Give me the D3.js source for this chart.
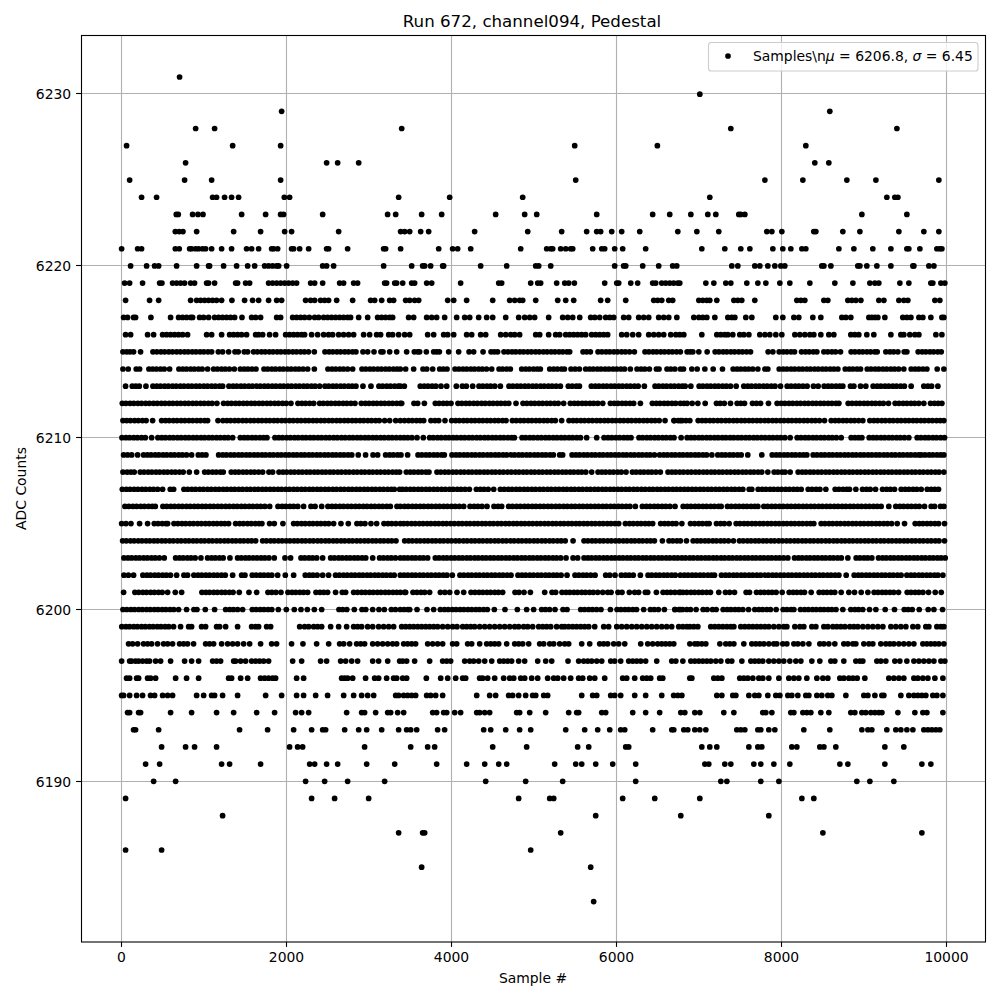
<!DOCTYPE html>
<html><head><meta charset="utf-8">
<style>html,body{margin:0;padding:0;background:#fff}svg{display:block}text{font-family:"DejaVu Sans";fill:#000}</style>
<script src="https://cdn.jsdelivr.net/npm/d3@7/dist/d3.min.js"></script></head><body>
<svg id="c" width="1000" height="1000"></svg>
<script>
const titleText="Run 672, channel094, Pedestal";
const xLabel="Sample #", yLabel="ADC Counts";
const xTicks=[0,2000,4000,6000,8000,10000];
const yTicks=[6190,6200,6210,6220,6230];
const adc6231=[701];
const adc6230=[7013];
const adc6229=[1939,8590];
const adc6228=[896,1126,3396,7389,9404];
const adc6227=[58,1345,1927,5495,6498,8299];
const adc6226=[774,2485,2619,2874,8408,8578];
const adc6225=[95,762,1090,1927,5507,7802,8263,8797,9149,9913];
const adc6224=[240,422,1102,1150,1247,1332,1417,1972,2036,3359,3978,4864,7134,9282,9379,9416];
const adc6223=[661,685,859,924,985,1454,1745,1927,1963,2437,3225,3323,3638,3881,4536,4888,5034,5762,6441,6648,6904,7110,7207,7486,7510,7559,8979,9525];
const adc6222=[649,697,742,908,1357,1684,1976,2060,2631,3383,3432,3493,3626,3723,4281,4925,5337,5640,5762,5810,5944,6065,6284,6746,6977,7243,7826,7887,8008,8396,8421,8748,8955,9428,9731,9913];
const adc6221=[-2,192,240,649,697,823,847,896,932,980,1017,1090,1211,1332,1514,1575,1660,1818,1842,1891,2060,2085,2158,2267,2485,2509,2740,3177,3201,3383,3845,4014,4075,4233,4840,5155,5204,5228,5325,5386,5446,5471,5713,5823,5859,5980,6077,6356,7037,7316,7510,7620,7899,8020,8117,8251,8299,8700,8882,9112,9331,9525,9549,9683,9889,9925,9950];
const adc6220=[107,301,398,447,665,908,1053,1065,1235,1393,1527,1612,1733,1781,1830,1879,1903,2000,2437,2485,2570,3177,3517,3650,3675,3747,3893,3905,4354,4670,5022,5058,5204,5980,6089,6114,6320,6514,6684,6733,7401,7474,7680,7741,7838,7923,7996,8044,8493,8518,8603,8930,8955,9039,9161,9331,9598,9610,9792,9853];
const adc6219=[34,95,252,459,487,616,665,713,762,835,883,1029,1053,1126,1381,1405,1502,1551,1781,1830,1879,1927,1976,2024,2073,2121,2291,2340,2437,2643,2691,2813,2861,3189,3213,3311,3335,3408,3517,3553,3699,3760,4111,4573,4609,4961,5046,5082,5276,5374,5422,5491,5859,6005,6029,6175,6259,6441,6478,6551,6599,6648,6696,6745,6770,7086,7183,7328,7389,7583,7717,7814,7984,8105,8348,8651,8870,9076,9137,9185,9440,9549,9816,9840,9938,9986];
const adc6218=[46,337,447,835,908,956,1005,1053,1102,1150,1211,1336,1490,1587,1660,1781,1879,1939,2230,2291,2340,2412,2461,2509,2607,2801,3019,3068,3153,3250,3298,3444,3493,3553,3602,3954,4027,4184,4500,4706,4767,4827,4864,5022,5289,5386,5483,5810,5895,6114,6454,6502,6551,6636,6684,7001,7049,7098,7134,7219,7426,7474,7522,7680,8190,8239,8287,8518,8566,8809,8857,8906,8967,9185,9246,9428,9488,9537,9865,9925];
const adc6217=[22,70,143,167,353,592,689,738,786,835,859,944,993,1053,1126,1175,1223,1272,1320,1369,1458,1575,1624,1684,1879,1927,2073,2121,2170,2218,2275,2340,2388,2449,2497,2546,2594,2643,2691,2740,2776,2874,2983,3104,3153,3201,3250,3286,3480,3541,3699,3760,3820,3917,4063,4160,4221,4330,4427,4500,4658,4815,4888,4949,5009,5179,5349,5410,5471,5556,5689,5738,5798,5871,5920,5968,6089,6150,6271,6332,6393,6514,6575,6636,6734,6940,7001,7049,7098,7195,7353,7401,7438,7571,7644,7935,8020,8154,8214,8384,8481,8736,8785,8845,9064,9100,9137,9173,9258,9476,9525,9574,9671,9719,9816,9950,9974];
const adc6216=[46,107,313,386,495,544,592,641,689,738,798,1029,1090,1211,1308,1357,1405,1454,1514,1624,1660,1709,1793,1866,1988,2036,2085,2133,2182,2218,2303,2376,2449,2509,2558,2631,2691,2752,2813,2934,3007,3092,3140,3238,3286,3359,3432,3493,3711,3784,3905,3954,4027,4184,4245,4354,4415,4597,4658,4718,4767,4827,5022,5070,5179,5264,5313,5386,5434,5483,5531,5580,5628,5701,5750,5798,5847,5895,6065,6126,6199,6271,6393,6454,6514,6575,6660,6722,6770,6819,7037,7219,7268,7316,7353,7413,7498,7547,7608,7741,7802,7862,7935,8008,8166,8226,8287,8348,8396,8481,8578,8639,8845,8894,8942,9039,9124,9331,9452,9488,9561,9622,9671,9877,9950];
const adc6215=[14,60,100,143,228,378,425,475,520,570,615,665,710,760,805,855,900,950,995,1045,1090,1171,1223,1296,1373,1413,1486,1527,1599,1645,1695,1740,1790,1835,1885,1930,1980,2025,2075,2120,2170,2215,2265,2336,2465,2515,2560,2610,2655,2705,2750,2800,2841,2926,2983,3060,3144,3169,3250,3335,3456,3549,3590,3614,3695,3784,3820,3853,3966,4087,4213,4269,4383,4480,4520,4560,4637,4685,4735,4780,4830,4875,4925,4970,5020,5065,5115,5160,5210,5255,5305,5350,5400,5434,5596,5640,5685,5778,5825,5875,5920,5970,6015,6065,6110,6160,6219,6348,6395,6445,6490,6540,6585,6635,6680,6730,6777,6859,6895,6928,7001,7102,7199,7245,7295,7340,7390,7435,7485,7530,7580,7628,7842,7899,7976,8025,8070,8120,8162,8247,8295,8340,8390,8433,8518,8565,8615,8660,8720,8849,8895,8945,8990,9040,9085,9135,9165,9270,9320,9365,9416,9493,9525,9662,9710,9755,9805,9850,9900,9942];
const adc6214=[14,78,175,216,329,375,420,470,515,580,693,740,785,835,880,930,975,1041,1114,1160,1210,1255,1305,1365,1438,1485,1530,1580,1628,1725,1770,1820,1865,1915,1960,2010,2055,2105,2150,2200,2255,2336,2501,2550,2595,2645,2690,2740,2801,2914,2960,3010,3055,3105,3150,3200,3245,3295,3340,3379,3444,3541,3654,3700,3772,3857,3900,3946,4043,4090,4140,4185,4235,4280,4330,4375,4425,4488,4577,4620,4670,4714,4852,4900,4945,4995,5040,5078,5192,5240,5285,5335,5370,5450,5500,5552,5628,5675,5720,5770,5815,5865,5910,5960,6005,6055,6100,6170,6251,6300,6345,6401,6486,6518,6615,6660,6710,6777,6815,6916,6981,7074,7175,7288,7417,7465,7510,7560,7605,7655,7717,7802,7838,7976,8025,8070,8120,8165,8215,8260,8310,8355,8405,8450,8500,8545,8595,8640,8688,8777,8825,8870,8920,8963,9044,9090,9140,9185,9235,9280,9330,9375,9425,9488,9577,9625,9670,9720,9768,9893,9974];
const adc6213=[46,127,170,212,293,378,425,470,520,565,615,660,710,755,805,850,900,945,995,1040,1090,1135,1185,1223,1300,1350,1395,1445,1490,1540,1585,1635,1680,1730,1775,1825,1870,1920,1965,2015,2060,2110,2155,2205,2250,2300,2345,2400,2465,2510,2560,2605,2655,2700,2750,2795,2841,2926,3023,3120,3165,3215,3260,3310,3355,3379,3428,3622,3670,3715,3765,3810,3873,3942,4059,4132,4180,4257,4334,4380,4430,4475,4525,4593,4698,4745,4795,4840,4890,4935,4985,5030,5080,5125,5175,5220,5270,5321,5418,5465,5515,5552,5697,5745,5790,5840,5885,5935,5980,6030,6075,6125,6170,6220,6265,6340,6470,6515,6565,6610,6660,6705,6755,6800,6835,6904,7005,7050,7100,7145,7195,7240,7290,7335,7385,7454,7547,7595,7640,7690,7735,7785,7830,7880,7925,7992,8073,8120,8170,8215,8265,8315,8392,8449,8522,8570,8615,8665,8710,8748,8841,8882,8963,9027,9116,9165,9210,9260,9305,9355,9400,9450,9495,9577,9731,9780,9825,9901];
const adc6212=[6,50,100,145,195,240,290,335,385,430,480,525,575,620,670,715,765,810,860,905,955,1000,1050,1095,1154,1235,1285,1330,1380,1425,1475,1520,1570,1615,1665,1710,1760,1805,1855,1900,1950,1995,2052,2137,2185,2230,2280,2328,2400,2445,2495,2540,2590,2635,2685,2730,2780,2829,2906,2955,3000,3050,3095,3145,3190,3240,3285,3335,3379,3396,3545,3590,3671,3804,3850,3900,3945,3994,4079,4125,4175,4220,4270,4315,4365,4410,4460,4505,4555,4600,4650,4695,4783,4868,4915,4965,5010,5060,5105,5155,5200,5250,5295,5361,5442,5490,5535,5585,5630,5680,5725,5775,5835,5928,5975,6020,6070,6115,6165,6210,6292,6437,6485,6530,6580,6625,6675,6720,6777,6820,6859,6920,6989,7078,7215,7260,7310,7385,7466,7510,7555,7652,7700,7750,7846,7951,8000,8045,8095,8140,8190,8235,8285,8330,8380,8425,8475,8520,8570,8615,8665,8700,8813,8860,8910,8955,9005,9050,9100,9145,9195,9240,9302,9383,9430,9480,9525,9575,9620,9670,9731,9812,9860,9905,9950];
const adc6211=[14,60,105,155,200,250,295,374,483,530,575,625,670,720,765,815,860,910,955,1005,1041,1167,1227,1275,1320,1370,1415,1465,1510,1560,1605,1655,1700,1750,1795,1845,1890,1940,1985,2035,2080,2130,2175,2225,2270,2320,2365,2415,2460,2510,2555,2605,2650,2700,2745,2795,2840,2890,2935,2985,3030,3080,3124,3189,3250,3323,3379,3430,3480,3525,3575,3620,3663,3751,3800,3845,3921,4002,4050,4095,4145,4190,4240,4285,4335,4380,4430,4475,4525,4570,4620,4662,4739,4785,4835,4880,4930,4975,5025,5070,5120,5165,5215,5260,5337,5426,5475,5520,5570,5615,5665,5710,5760,5805,5855,5900,5950,5995,6045,6090,6140,6185,6235,6280,6330,6375,6425,6470,6520,6591,6700,6777,6701,6750,6800,6845,6892,6993,7040,7085,7135,7180,7230,7275,7325,7370,7420,7465,7515,7560,7610,7655,7705,7750,7800,7845,7895,7940,7990,8035,8085,8130,8180,8225,8275,8320,8370,8415,8465,8526,8607,8655,8700,8750,8795,8845,8890,8940,8991,9076,9125,9170,9220,9265,9315,9360,9410,9455,9505,9550,9600,9645,9695,9740,9790,9835,9885,9930,9974];
const adc6210=[2,50,95,145,190,240,285,362,438,485,530,580,625,675,720,770,815,865,910,960,1005,1055,1100,1150,1195,1245,1290,1345,1438,1485,1530,1580,1625,1675,1720,1761,1858,1905,1950,2000,2045,2095,2140,2190,2235,2285,2330,2380,2425,2475,2520,2570,2615,2665,2710,2760,2805,2855,2900,2950,2995,3045,3090,3140,3185,3235,3280,3330,3379,3425,3470,3520,3582,3658,3735,3780,3830,3875,3925,3970,4020,4065,4115,4160,4210,4255,4305,4350,4400,4445,4495,4540,4590,4635,4685,4730,4763,4856,4900,4950,4995,5045,5090,5140,5185,5235,5280,5330,5375,5425,5470,5520,5565,5640,5762,5851,5900,5945,5995,6040,6090,6135,6178,6275,6320,6370,6415,6465,6510,6560,6605,6655,6700,6786,6859,6905,6950,7000,7045,7095,7140,7190,7235,7285,7330,7380,7425,7475,7520,7570,7615,7665,7710,7760,7805,7855,7900,7950,7995,8045,8109,8194,8240,8290,8335,8385,8430,8480,8525,8575,8620,8670,8728,8849,8895,8940,8979,9068,9115,9160,9210,9255,9305,9350,9400,9445,9495,9549,9650,9695,9745,9790,9840,9885,9935,9982];
const adc6209=[22,70,120,192,264,310,355,405,450,500,545,595,640,690,735,785,847,928,975,1021,1175,1225,1270,1320,1365,1415,1460,1510,1555,1605,1650,1700,1745,1795,1840,1890,1935,1985,2030,2080,2125,2175,2220,2270,2315,2365,2410,2460,2505,2555,2600,2650,2695,2745,2790,2869,2958,3048,3104,3201,3250,3295,3345,3387,3468,3594,3640,3690,3735,3785,3830,3880,3913,4006,4055,4100,4150,4195,4245,4290,4340,4385,4435,4480,4530,4575,4625,4670,4720,4765,4815,4860,4910,4955,5005,5050,5100,5145,5195,5236,5313,5349,5463,5510,5555,5605,5650,5700,5745,5795,5840,5890,5935,5985,6030,6080,6125,6175,6220,6270,6315,6365,6410,6462,6526,6575,6620,6670,6715,6765,6810,6860,6905,6955,7000,7050,7095,7159,7231,7280,7325,7375,7420,7470,7515,7595,7765,7891,7940,7985,8035,8080,8130,8175,8225,8270,8311,8388,8435,8485,8530,8580,8625,8675,8720,8770,8815,8865,8910,8960,9005,9055,9100,9150,9195,9245,9290,9340,9385,9435,9480,9530,9575,9625,9670,9700,9745,9795,9840,9890,9935,9974];
const adc6208=[14,65,110,151,224,270,320,365,415,460,510,555,605,650,700,745,819,908,1005,1050,1100,1145,1195,1231,1328,1375,1420,1470,1515,1565,1610,1660,1709,1785,1830,1907,1955,2000,2050,2095,2145,2190,2240,2285,2335,2380,2430,2475,2525,2570,2620,2665,2715,2760,2810,2855,2905,2950,3000,3045,3095,3140,3190,3235,3285,3330,3371,3452,3500,3545,3595,3640,3690,3727,3824,3870,3920,3965,4015,4060,4110,4155,4205,4250,4300,4345,4395,4440,4490,4535,4585,4630,4680,4725,4775,4820,4870,4915,4965,5010,5060,5105,5155,5200,5250,5295,5345,5390,5440,5485,5535,5580,5630,5701,5778,5825,5870,5920,5965,6015,6060,6118,6195,6240,6290,6335,6385,6430,6480,6534,6627,6675,6720,6770,6815,6865,6910,6960,7005,7055,7100,7150,7195,7245,7290,7340,7385,7435,7480,7530,7575,7625,7670,7720,7765,7838,7915,7960,8010,8048,8109,8206,8255,8300,8350,8395,8445,8490,8540,8585,8635,8680,8730,8775,8825,8870,8920,8965,9015,9060,9110,9155,9205,9250,9300,9345,9395,9440,9490,9535,9585,9630,9680,9725,9775,9820,9870,9915,9974];
const adc6207=[6,55,100,150,195,245,290,340,385,435,495,588,629,754,800,850,895,945,990,1040,1085,1135,1180,1230,1275,1325,1370,1420,1465,1515,1560,1610,1655,1705,1750,1800,1845,1895,1940,1990,2035,2085,2130,2180,2225,2275,2320,2370,2415,2465,2510,2560,2605,2655,2700,2750,2795,2845,2890,2940,2985,3035,3080,3130,3175,3225,3270,3306,3371,3404,3450,3500,3545,3595,3640,3690,3735,3785,3830,3880,3925,3975,4020,4070,4115,4165,4217,4302,4350,4395,4445,4512,4593,4640,4690,4735,4785,4830,4880,4925,4975,5020,5070,5115,5165,5210,5260,5305,5355,5400,5450,5495,5545,5590,5640,5685,5735,5780,5830,5875,5925,5970,6020,6065,6115,6160,6210,6255,6305,6350,6400,6445,6495,6540,6590,6635,6685,6730,6777,6825,6870,6920,6965,7015,7060,7110,7155,7205,7250,7300,7345,7395,7440,7490,7535,7612,7644,7721,7770,7815,7865,7910,7960,8005,8055,8100,8150,8195,8243,8328,8375,8425,8470,8542,8655,8700,8750,8795,8829,8906,8987,9035,9080,9145,9230,9280,9325,9375,9456,9505,9550,9600,9645,9699,9772,9820,9865,9909];
const adc6206=[38,85,135,180,230,275,325,370,406,499,545,595,640,690,735,785,830,880,925,975,1020,1070,1115,1165,1210,1260,1305,1355,1400,1450,1495,1545,1590,1640,1685,1735,1794,1895,1945,1990,2040,2085,2135,2206,2295,2345,2425,2501,2550,2595,2645,2690,2740,2785,2835,2880,2930,2975,3025,3070,3120,3165,3215,3258,3339,3379,3430,3475,3525,3570,3620,3665,3715,3760,3810,3855,3905,3950,4000,4045,4095,4148,4225,4275,4320,4370,4431,4516,4565,4609,4694,4740,4790,4835,4885,4930,4980,5025,5075,5120,5170,5215,5265,5310,5360,5405,5455,5500,5550,5595,5645,5690,5740,5785,5835,5880,5930,5975,6025,6070,6120,6165,6231,6316,6365,6410,6460,6505,6555,6600,6650,6712,6811,6860,6905,6955,7000,7050,7095,7145,7190,7240,7272,7349,7395,7445,7490,7540,7585,7635,7680,7717,7790,7835,7885,7930,7980,8025,8075,8120,8170,8215,8265,8310,8360,8405,8455,8500,8550,8595,8645,8690,8740,8785,8835,8880,8930,8975,9025,9070,9120,9165,9213,9306,9391,9440,9485,9535,9580,9630,9675,9739,9820,9861,9933,9974];
const adc6205=[-2,50,111,216,313,394,440,490,535,556,633,680,730,775,825,870,920,965,1015,1060,1110,1155,1205,1250,1296,1381,1430,1475,1525,1570,1620,1665,1700,1793,1850,1955,2085,2130,2180,2225,2275,2320,2370,2415,2465,2510,2570,2659,2748,2853,2900,2950,3023,3092,3181,3230,3275,3325,3379,3420,3465,3515,3560,3610,3655,3705,3750,3800,3845,3895,3940,3990,4035,4085,4130,4180,4225,4275,4320,4370,4415,4465,4510,4560,4605,4655,4700,4750,4795,4845,4890,4940,4985,5035,5080,5130,5175,5225,5270,5320,5365,5415,5460,5510,5555,5605,5650,5700,5745,5795,5840,5890,5935,5985,6029,6110,6160,6205,6255,6300,6350,6395,6441,6538,6585,6630,6680,6725,6795,6900,6950,7000,7045,7095,7126,7215,7265,7310,7369,7454,7500,7550,7595,7645,7690,7740,7785,7835,7880,7930,7975,8025,8070,8120,8165,8215,8260,8310,8355,8396,8485,8530,8580,8625,8675,8720,8770,8815,8865,8910,8960,9005,9055,9100,9150,9195,9245,9290,9340,9408,9497,9626,9675,9720,9770,9815,9865,9910,9982];
const adc6204=[10,55,105,150,200,245,295,340,390,435,485,530,580,625,675,720,770,815,865,910,960,1005,1055,1100,1150,1195,1245,1290,1340,1385,1435,1480,1530,1575,1624,1709,1755,1805,1850,1900,1945,1995,2040,2090,2135,2185,2230,2280,2325,2375,2420,2470,2515,2565,2610,2660,2705,2755,2800,2850,2895,2945,2990,3040,3085,3135,3180,3230,3275,3327,3432,3480,3525,3575,3620,3670,3715,3765,3810,3860,3905,3955,4000,4050,4095,4145,4190,4240,4285,4335,4380,4430,4475,4525,4570,4620,4665,4715,4760,4810,4855,4905,4950,5000,5045,5095,5140,5190,5235,5285,5330,5380,5475,5608,5655,5705,5750,5800,5845,5895,5940,5990,6035,6085,6130,6180,6225,6275,6320,6370,6415,6462,6559,6639,6685,6735,6777,6851,6932,6980,7025,7075,7120,7170,7215,7265,7310,7360,7421,7494,7540,7590,7635,7685,7730,7780,7825,7875,7920,7970,8015,8065,8110,8160,8205,8255,8300,8350,8395,8445,8490,8540,8585,8635,8680,8730,8775,8825,8870,8920,8965,9015,9060,9110,9155,9205,9250,9300,9345,9395,9440,9490,9535,9585,9630,9680,9725,9775,9820,9870,9915,9982];
const adc6203=[26,75,120,170,215,265,310,360,405,455,515,653,700,745,795,840,890,960,1041,1090,1135,1185,1230,1312,1405,1450,1500,1545,1595,1640,1690,1735,1785,1850,1980,2048,2174,2220,2270,2315,2365,2437,2534,2580,2630,2675,2725,2770,2820,2865,2915,2960,3044,3128,3175,3225,3270,3320,3379,3425,3470,3520,3565,3615,3660,3711,3804,3850,3900,3945,3995,4040,4090,4135,4185,4230,4280,4325,4375,4420,4470,4515,4565,4610,4660,4705,4755,4800,4850,4895,4945,4990,5040,5085,5135,5180,5230,5275,5325,5390,5475,5531,5608,5655,5700,5750,5795,5845,5890,5940,5985,6035,6080,6130,6175,6225,6270,6320,6365,6415,6460,6510,6555,6605,6650,6700,6745,6795,6840,6890,6935,6985,7030,7080,7125,7175,7220,7270,7315,7365,7410,7460,7505,7555,7600,7650,7695,7745,7790,7840,7885,7935,7980,8030,8081,8162,8210,8255,8305,8350,8400,8445,8495,8540,8590,8635,8685,8730,8809,8910,8955,9005,9050,9100,9181,9230,9275,9325,9370,9420,9465,9515,9560,9610,9655,9705,9750,9800,9845,9895,9940,9990];
const adc6202=[26,80,143,256,305,350,400,445,495,540,590,665,754,798,875,925,970,1020,1065,1115,1160,1210,1255,1345,1454,1494,1583,1630,1680,1725,1775,1820,1891,1984,2085,2226,2275,2320,2370,2437,2509,2594,2640,2690,2735,2785,2830,2880,2925,2975,3020,3070,3115,3165,3210,3260,3305,3379,3425,3470,3520,3565,3615,3660,3710,3755,3805,3850,3900,3945,4010,4103,4150,4200,4245,4295,4340,4390,4435,4485,4530,4580,4625,4675,4722,4807,4855,4900,4950,4995,5045,5090,5140,5185,5235,5280,5330,5402,5499,5545,5595,5640,5690,5742,5871,5920,5984,6061,6110,6155,6205,6292,6385,6430,6480,6525,6575,6620,6670,6715,6777,6825,6870,6920,6965,7015,7060,7110,7155,7191,7276,7325,7370,7420,7465,7515,7560,7610,7655,7705,7750,7800,7845,7895,7940,7990,8035,8085,8130,8180,8225,8275,8320,8370,8415,8465,8510,8560,8605,8655,8700,8789,8886,8935,8980,9030,9075,9125,9170,9220,9265,9315,9360,9410,9455,9525,9575,9620,9670,9715,9765,9810,9860,9901,9962];
const adc6201=[22,159,205,255,300,350,395,445,490,556,649,726,972,1020,1065,1115,1160,1210,1255,1305,1350,1425,1543,1636,1773,1820,1870,1931,2016,2065,2110,2160,2205,2255,2356,2405,2450,2497,2594,2675,2716,2813,2860,2910,2955,3005,3050,3100,3145,3195,3240,3290,3335,3379,3430,3444,3533,3580,3630,3675,3735,3865,3920,3978,4067,4148,4237,4285,4335,4380,4430,4475,4525,4570,4621,4771,4819,4880,4957,5131,5220,5264,5341,5390,5435,5485,5530,5580,5625,5675,5720,5774,5835,5895,5936,6020,6069,6158,6223,6271,6352,6381,6486,6567,6615,6660,6710,6777,6762,6810,6855,6905,6950,7000,7045,7095,7142,7243,7324,7375,7434,7575,7616,7701,7750,7795,7845,7890,7939,8012,8097,8145,8190,8240,8283,8364,8461,8510,8555,8605,8650,8728,8821,8890,8971,9052,9128,9175,9225,9270,9320,9365,9424,9529,9575,9625,9670,9720,9788,9869,9942];
const adc6200=[14,60,110,155,205,250,300,345,395,440,490,535,585,630,689,786,875,912,1013,1126,1260,1310,1355,1405,1466,1583,1630,1680,1725,1775,1820,1899,1996,2093,2174,2251,2336,2425,2635,2680,2730,2821,2914,2960,3044,3120,3185,3270,3320,3379,3425,3470,3493,3582,3703,3784,3865,3915,3960,4010,4055,4105,4150,4200,4245,4295,4340,4390,4435,4520,4649,4799,4912,4997,5094,5140,5190,5256,5353,5402,5568,5615,5665,5710,5760,5814,5928,6009,6055,6105,6150,6200,6245,6332,6413,6460,6510,6583,6712,6777,6710,6760,6805,6855,6900,6968,7053,7102,7167,7211,7296,7345,7390,7440,7485,7535,7604,7680,7730,7775,7825,7870,7939,8024,8070,8120,8154,8235,8285,8330,8380,8425,8475,8520,8570,8615,8665,8748,8845,8895,8940,8990,9072,9149,9262,9375,9493,9540,9590,9675,9784,9853,9958];
const adc6199=[0,50,95,145,190,240,285,335,380,430,475,525,570,628,713,811,847,968,1017,1150,1187,1260,1405,1575,1624,1660,1757,1806,2158,2218,2267,2328,2376,2425,2534,2631,2728,2813,2861,2910,2983,3044,3116,3177,3238,3298,3396,3444,3493,3541,3590,3638,3687,3735,3784,3832,3893,3954,4014,4067,4136,4184,4233,4281,4342,4403,4463,4524,4585,4645,4706,4767,4815,4876,4925,4985,5058,5107,5155,5204,5276,5337,5374,5422,5471,5519,5568,5616,5665,5738,5847,5907,6005,6065,6126,6187,6247,6308,6369,6429,6490,6551,6611,6672,6757,6807,6855,6892,6940,6989,7146,7195,7243,7292,7341,7389,7426,7510,7559,7608,7656,7705,7753,7802,7850,7911,7972,8032,8069,8166,8227,8275,8372,8421,8518,8566,8627,8675,8724,8773,8833,8882,8930,8991,9052,9112,9173,9234,9331,9391,9452,9513,9598,9658,9755,9792,9889,9938,9974];
const adc6198=[82,131,192,264,313,362,434,507,556,616,701,750,798,871,1017,1065,1114,1211,1284,1345,1405,1478,1551,1684,1818,1878,2060,2198,2364,2510,2643,2692,2764,2849,2898,2946,3044,3104,3165,3226,3286,3335,3420,3468,3517,3565,3711,3772,3832,3893,4014,4063,4196,4245,4342,4427,4476,4524,4573,4670,4767,4815,4864,4937,5070,5119,5192,5240,5313,5374,5422,5580,5677,5798,5847,5895,5968,6029,6102,6296,6381,6441,6502,6551,6599,6648,6697,6892,6952,6989,7037,7086,7256,7328,7377,7426,7547,7644,7693,7741,7790,7850,7911,7947,8020,8069,8154,8202,8263,8336,8469,8518,8578,8651,8760,8809,8870,8906,9003,9064,9112,9209,9270,9319,9367,9428,9488,9549,9610,9719,9768,9816,9865,9913,9974];
const adc6197=[-2,95,119,167,204,252,301,337,410,471,592,762,847,932,1102,1150,1199,1357,1381,1442,1502,1575,1624,1672,1721,1781,2073,2182,2412,2485,2655,2716,2789,2861,3044,3116,3226,3371,3408,3456,3553,3735,3893,3942,3990,4160,4221,4269,4330,4403,4488,4585,4633,4682,4730,4815,4888,5046,5143,5216,5414,5543,5604,5653,5701,5762,5823,5932,5980,6053,6150,6199,6247,6296,6356,6490,6672,6722,6807,6904,6952,7001,7049,7098,7146,7207,7268,7353,7401,7523,7632,7680,7729,7777,7850,7911,7972,8032,8105,8178,8239,8372,8469,8603,8651,8760,8906,8955,8991,9161,9209,9270,9379,9440,9525,9610,9671,9731,9792,9853,9938,9986];
const adc6196=[58,95,180,204,313,349,410,653,786,932,1296,1332,1442,1527,1684,1733,1781,1830,1866,2121,2206,2667,2704,2740,2801,2958,3068,3116,3213,3298,3335,3408,3456,3695,3869,3954,4051,4136,4172,4342,4378,4439,4524,4633,4706,4755,4840,4888,4973,5046,5167,5240,5289,5361,5446,5543,5592,5677,5738,5859,6077,6126,6223,6320,6369,6417,6526,6563,6892,6916,7183,7231,7280,7498,7547,7595,7656,7729,7777,7850,7972,8093,8154,8214,8311,8433,8506,8566,8712,8760,8821,8870,8922,9015,9306,9367,9428,9488,9610,9658,9719,9780,9865,9962];
const adc6195=[-2,22,95,180,252,349,398,495,556,616,908,993,1090,1126,1223,1405,1745,1939,2121,2206,2352,2497,2692,2813,2910,2983,3056,3323,3359,3420,3468,3517,3565,3699,3747,3808,3893,4306,4463,4536,4694,4742,4815,4900,4985,5022,5119,5167,5580,5713,5762,5932,5980,6053,6223,6356,6551,6696,6746,6795,7219,7280,7413,7450,7608,7680,7729,7838,7935,7984,8081,8129,8202,8299,8336,8433,8493,8566,8615,8785,9003,9052,9137,9222,9246,9452,9549,9610,9658,9707,9755,9840,9889,9962];
const adc6194=[70,95,204,228,592,847,1150,1357,1636,1854,2109,2182,2267,2728,2910,2946,3080,3226,3262,3347,3420,3772,3820,3905,3942,4039,4111,4306,4342,4403,4463,4791,4827,4949,5143,5422,5519,5543,5823,5871,6199,6356,6526,6782,6831,6952,7013,7304,7426,7777,7814,7887,8117,8154,8263,8311,8360,8481,8578,8845,8894,8979,9027,9088,9137,9185,9222,9416,9622,9719,9768,9962];
const adc6193=[143,167,447,1429,1769,2085,2303,2437,2473,2704,2874,2971,3153,3359,3456,3505,3578,3832,3917,4391,4476,4658,4827,4961,5386,5616,5774,5920,6053,6102,6441,6673,6697,6819,6867,6952,7013,7086,7462,7510,7559,7717,7753,7850,7923,8275,8590,8979,9052,9100,9282,9391,9452,9525,9598,9731,9780,9828,9877,9925];
const adc6192=[483,774,883,1150,2036,2133,2194,2946,3505,3711,3796,4500,4912,5531,5665,6114,6150,7037,7134,7219,7608,7717,7765,8129,8190,8469,8518,8663,9258,9488];
const adc6191=[289,459,1211,1308,1684,2279,2340,2485,2619,2971,3311,3820,4184,4403,4573,4670,5252,5507,5580,5750,5956,6235,7074,7122,7316,7389,7668,7753,7911,8105,8712,8809,9258,9707,9816];
const adc6190=[386,653,2230,2461,2740,3189,4415,4900,5349,6235,7268,7341,7753,7972,8918,9076,9367];
const adc6189=[46,2303,2582,2995,4815,5192,5240,6077,6466,7013,8251,8396];
const adc6188=[1223,5750,6782,7850];
const adc6187=[3359,3650,3675,5325,8506,9707];
const adc6186=[46,483,4961];
const adc6185=[3638,5689];
const adc6183=[5725];
const rows=[[6231,adc6231],[6230,adc6230],[6229,adc6229],[6228,adc6228],[6227,adc6227],[6226,adc6226],[6225,adc6225],[6224,adc6224],[6223,adc6223],[6222,adc6222],[6221,adc6221],[6220,adc6220],[6219,adc6219],[6218,adc6218],[6217,adc6217],[6216,adc6216],[6215,adc6215],[6214,adc6214],[6213,adc6213],[6212,adc6212],[6211,adc6211],[6210,adc6210],[6209,adc6209],[6208,adc6208],[6207,adc6207],[6206,adc6206],[6205,adc6205],[6204,adc6204],[6203,adc6203],[6202,adc6202],[6201,adc6201],[6200,adc6200],[6199,adc6199],[6198,adc6198],[6197,adc6197],[6196,adc6196],[6195,adc6195],[6194,adc6194],[6193,adc6193],[6192,adc6192],[6191,adc6191],[6190,adc6190],[6189,adc6189],[6188,adc6188],[6187,adc6187],[6186,adc6186],[6185,adc6185],[6183,adc6183]];
const points=rows.flatMap(([v,xs])=>xs.map(s=>({s,v})));

const L=81,R=985,T=35.5,B=942;
const x=d3.scaleLinear().domain([-495,10473]).range([L,R]);
const y=d3.scaleLinear().domain([6180.63,6233.4]).range([B,T]);
const svg=d3.select("#c");
const snap=p=>Math.floor(p)+0.5;
const grid=svg.append("g").attr("stroke","#b0b0b0").attr("stroke-width",1.1);
grid.selectAll("line.gx").data(xTicks).join("line").attr("class","gx").attr("x1",d=>snap(x(d))).attr("x2",d=>snap(x(d))).attr("y1",T).attr("y2",B);
grid.selectAll("line.gy").data(yTicks).join("line").attr("class","gy").attr("y1",d=>snap(y(d))).attr("y2",d=>snap(y(d))).attr("x1",L).attr("x2",R);
svg.append("g").selectAll("circle").data(points).join("circle").attr("cx",d=>x(d.s)).attr("cy",d=>y(d.v)+0.25).attr("r",2.85).attr("fill","#000");
const ax=d3.axisBottom(x).tickValues(xTicks).tickFormat(d3.format("d")).tickSize(4.9).tickPadding(5.6).offset(0);
const ay=d3.axisLeft(y).tickValues(yTicks).tickFormat(d3.format("d")).tickSize(4.9).tickPadding(4.9).offset(0);
const gx=svg.append("g").attr("transform",`translate(0,${B})`).call(ax);
const gy=svg.append("g").attr("transform",`translate(${L},0)`).call(ay);
[gx,gy].forEach(g=>{g.select(".domain").remove();g.selectAll("line").attr("stroke","#000").attr("stroke-width",1.1);g.selectAll("text").attr("font-family","DejaVu Sans").attr("font-size",13.9).attr("fill","#000");});
gx.selectAll("g.tick").attr("transform",d=>`translate(${snap(x(d))},0)`);
gy.selectAll("g.tick").attr("transform",d=>`translate(0,${snap(y(d))})`);
gy.selectAll("text").attr("dy","0.4em");
svg.append("rect").attr("x",L+0.5).attr("y",T).attr("width",R-L).attr("height",B-T).attr("fill","none").attr("stroke","#000").attr("stroke-width",1.1);
svg.append("text").attr("x",532).attr("y",27).attr("text-anchor","middle").attr("font-size",16.67).text(titleText);
svg.append("text").attr("x",533).attr("y",983).attr("text-anchor","middle").attr("font-size",13.9).text(xLabel);
svg.append("text").attr("transform","translate(26,488.5) rotate(-90)").attr("text-anchor","middle").attr("font-size",13.9).text(yLabel);
const lg=svg.append("g");
lg.append("rect").attr("x",708.5).attr("y",42.5).attr("width",269.5).attr("height",28.5).attr("rx",2.8).attr("fill","#fff").attr("fill-opacity",0.8).attr("stroke","#ccc").attr("stroke-width",1.1);
lg.append("circle").attr("cx",728).attr("cy",56).attr("r",2.85).attr("fill","#000");
const t=lg.append("text").attr("x",753).attr("y",61).attr("font-size",13.9);
t.append("tspan").text("Samples\\n");
t.append("tspan").attr("font-style","italic").text("μ");
t.append("tspan").text(" = 6206.8, ");
t.append("tspan").attr("font-style","italic").text("σ");
t.append("tspan").text(" = 6.45");
</script></body></html>
